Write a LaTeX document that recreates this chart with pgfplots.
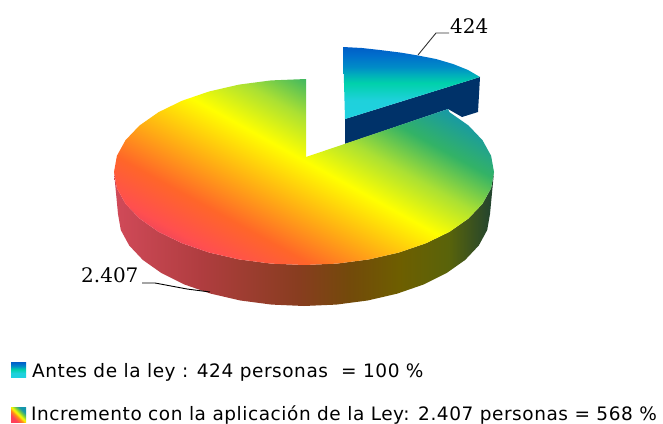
\documentclass[border=0pt]{standalone}
\usepackage{pgfplots}
\pgfplotsset{compat=1.18}
\usepackage{fontspec}
\setmainfont{DejaVu Sans}
\newfontfamily\numfont{DejaVu Serif}
\newfontfamily\legfont[LetterSpace=3]{DejaVu Sans}
\definecolor{navy}{RGB}{0,50,105}
\pgfdeclarehorizontalshading{bigtop}{100bp}{
 rgb(0bp)=(0.94,0.27,0.36); rgb(25bp)=(0.94,0.27,0.36); rgb(27.6bp)=(1,0.31,0.31);
 rgb(34.8bp)=(1,0.40,0.16); rgb(42.5bp)=(1,0.67,0.08); rgb(52bp)=(1,1,0);
 rgb(59.5bp)=(0.67,0.88,0.20); rgb(67bp)=(0.20,0.70,0.40); rgb(75bp)=(0.08,0.59,0.67); rgb(100bp)=(0.08,0.59,0.67)}
\pgfdeclarehorizontalshading{bigside}{100bp}{
 rgb(0bp)=(0.82,0.29,0.35); rgb(25bp)=(0.82,0.29,0.35); rgb(36.3bp)=(0.69,0.24,0.25);
 rgb(49.5bp)=(0.53,0.24,0.12); rgb(56bp)=(0.45,0.29,0.04); rgb(62.6bp)=(0.43,0.37,0);
 rgb(69bp)=(0.35,0.39,0.04); rgb(74.5bp)=(0.14,0.27,0.18); rgb(100bp)=(0.14,0.27,0.18)}
\pgfdeclareverticalshading{smalltop}{100bp}{
 rgb(0bp)=(0.12,0.82,0.88); rgb(25bp)=(0.12,0.82,0.88); rgb(38bp)=(0.12,0.82,0.86);
 rgb(50bp)=(0,0.82,0.67); rgb(55.6bp)=(0,0.69,0.73); rgb(61bp)=(0,0.55,0.78);
 rgb(69.4bp)=(0,0.43,0.80); rgb(75bp)=(0,0.37,0.78); rgb(100bp)=(0,0.37,0.78)}
\pgfdeclarehorizontalshading{swatch}{100bp}{
 rgb(0bp)=(1,0.25,0.35); rgb(30bp)=(1,0.25,0.35); rgb(42bp)=(1,0.55,0.10); rgb(50bp)=(1,1,0);
 rgb(60bp)=(0.45,0.80,0.25); rgb(70bp)=(0.08,0.59,0.67); rgb(100bp)=(0.08,0.59,0.67)}
\begin{document}
\begin{tikzpicture}
\begin{axis}[
  scale only axis, width=663bp, height=423bp,
  xmin=0, xmax=663, ymin=0, ymax=423, y dir=reverse,
  hide axis, clip=false]
\path (axis cs:0,0) rectangle (axis cs:663,423);
% small slice side
\addplot[draw=none, fill=navy] coordinates {
 (345,119) (480,77) (478,112) (462,117) (448,109) (345,144)} --cycle;
% small slice top
\addplot[draw=none, shade, shading=smalltop] coordinates {
 (343,47) (362,48) (380,50) (400,52.5) (418,55.5) (436,59) (453,64) (468,70) (480,77) (345,119)} --cycle;
% big slice side
\addplot[draw=none, shade, shading=bigside] coordinates {
 (114,172) (116.9,188.2) (125.5,203.8) (139.5,218.5) (158.5,231.8) (181.9,243.2) (209,252.5) (239,259.4) (271,263.6)
 (304,265) (337,263.6) (369,259.4) (399,252.5) (426.1,243.2) (449.5,231.8) (468.5,218.5) (482.5,203.8) (491.1,188.2) (494,172)
 (490,214) (487.2,230) (478.8,245.5) (465.1,260) (446.5,273.1) (423.6,284.5) (397,293.7) (367.6,300.5) (336.3,304.6)
 (304,306) (271.7,304.6) (240.4,300.5) (211,293.7) (184.4,284.5) (161.5,273.1) (142.9,260) (129.2,245.5) (120.8,230) (118,214)} --cycle;
% big slice top
\addplot[draw=none, shade, shading=bigtop, shading angle=61] coordinates {
 (306,79) (271,80.4) (239,84.6) (209,91.5) (181.9,100.8) (158.5,112.2) (139.5,125.5) (125.5,140.2) (116.9,155.8)
 (114,172) (116.9,188.2) (125.5,203.8) (139.5,218.5) (158.5,231.8) (181.9,243.2) (209,252.5) (239,259.4) (271,263.6)
 (304,265) (337,263.6) (369,259.4) (399,252.5) (426.1,243.2) (449.5,231.8) (468.5,218.5) (482.5,203.8) (491.1,188.2)
 (494,172) (491.1,155.8) (482.5,140.2) (468.5,125.5) (449.5,112.2) (448,109) (306,157)} --cycle;
% leader lines
\addplot[black!80, line width=0.9bp] coordinates {(418,55) (436,33) (449,33)};
\addplot[black, line width=0.9bp] coordinates {(142,283) (155,283) (187,289) (210,292)};
% legend swatches
\addplot[draw=none, shade, shading=smalltop] coordinates {(11,362) (26,362) (26,377) (11,377)} --cycle;
\addplot[draw=none, shade, shading=swatch, shading angle=45] coordinates {(11,407) (26,407) (26,422) (11,422)} --cycle;
% labels
\node[anchor=base west, inner sep=0pt, font=\numfont\fontsize{20bp}{20bp}\selectfont] at (axis cs:450,33) {424};
\node[anchor=base west, inner sep=0pt, font=\numfont\fontsize{20bp}{20bp}\selectfont] at (axis cs:81,282) {2.407};
\node[anchor=base west, inner sep=0pt, font=\legfont\fontsize{18.5bp}{20bp}\selectfont] at (axis cs:32,377) {Antes de la ley : 424 personas};
\node[anchor=base west, inner sep=0pt, font=\legfont\fontsize{18.5bp}{20bp}\selectfont] at (axis cs:341,377) {= 100 \%};
\node[anchor=base west, inner sep=0pt, font=\legfont\fontsize{18.5bp}{20bp}\selectfont] at (axis cs:31,420) {Incremento con la aplicación de la Ley: 2.407 personas = 568 \%};
\end{axis}
\end{tikzpicture}
\end{document}
